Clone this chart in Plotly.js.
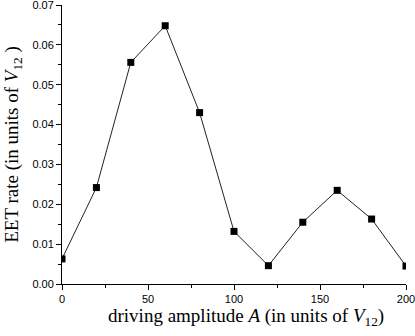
<!DOCTYPE html>
<html>
<head>
<meta charset="utf-8">
<script src="https://cdn.plot.ly/plotly-3.0.1.min.js"></script>
<style>html,body{margin:0;padding:0;background:#fff;}#chart{width:415px;height:336px;}</style>
</head>
<body>
<div id="chart"></div>
<script>
var amplitude = [0, 20, 40, 60, 80, 100, 120, 140, 160, 180, 200];
var eetRate = [0.0063, 0.0242, 0.0556, 0.0648, 0.0430, 0.0132, 0.0046, 0.0155, 0.0235, 0.0163, 0.0045];
var xTickVals = [0, 50, 100, 150, 200];
var yTickVals = [0, 0.01, 0.02, 0.03, 0.04, 0.05, 0.06, 0.07];
var xTitle = 'driving amplitude <i>A</i> (in units of <i>V</i><sub>12</sub>)';
var yTitle = 'EET rate (in units of <i>V</i><sub>12</sub> )';

var trace = {
  x: amplitude, y: eetRate, type: 'scatter', mode: 'lines+markers',
  line: {color: '#222', width: 1},
  marker: {symbol: 'square', size: 7, color: '#000'},
  cliponaxis: true
};
var axisCommon = {
  showgrid: false, zeroline: false, showline: true, linecolor: '#000', linewidth: 1,
  ticks: 'outside', ticklen: 5, tickwidth: 1, tickcolor: '#000',
  tickfont: {family: 'Liberation Sans, Arial, sans-serif', size: 11, color: '#000'},
  ticklabeloverflow: 'allow',
  mirror: false
};
var titleFont = {family: 'Liberation Serif, Times New Roman, serif', size: 19, color: '#000'};
var layout = {
  width: 415, height: 336,
  margin: {l: 62, r: 9, t: 5, b: 52},
  paper_bgcolor: '#fff', plot_bgcolor: '#fff',
  showlegend: false,
  xaxis: Object.assign({}, axisCommon, {
    range: [0, 200], tickvals: xTickVals,
    minor: {tickvals: [25, 75, 125, 175], ticks: 'outside', ticklen: 3, tickcolor: '#000'}
  }),
  yaxis: Object.assign({}, axisCommon, {
    range: [0, 0.07], tickvals: yTickVals, tickformat: '.2f',
    minor: {tickvals: [0.005, 0.015, 0.025, 0.035, 0.045, 0.055, 0.065], ticks: 'outside', ticklen: 3, tickcolor: '#000'},
    title: {text: yTitle, font: titleFont, standoff: 8}
  }),
  annotations: [{
    text: xTitle, xref: 'paper', yref: 'paper', x: 0.535, y: -0.12,
    xanchor: 'center', yanchor: 'middle', showarrow: false, font: titleFont
  }]
};
Plotly.newPlot('chart', [trace], layout, {displayModeBar: false, staticPlot: true});
</script>
</body>
</html>
